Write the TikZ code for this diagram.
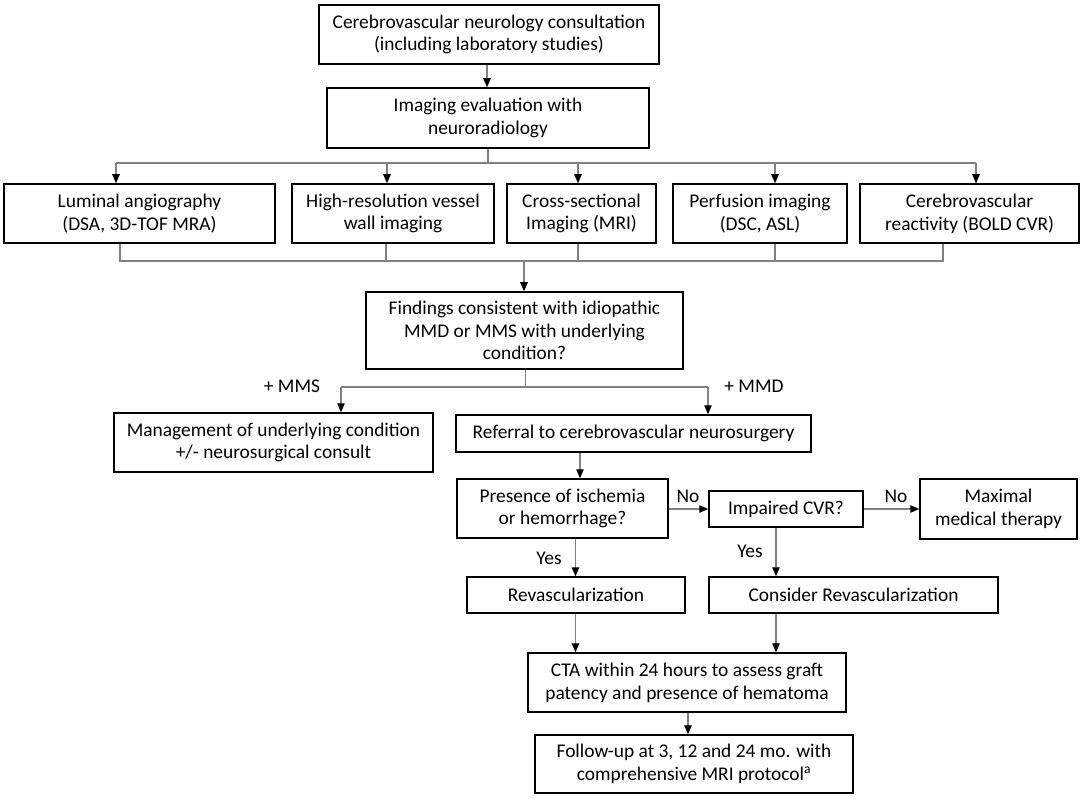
\documentclass[tikz,border=0pt]{standalone}
\usepackage{fontspec}
\setmainfont{Carlito}
\usetikzlibrary{arrows.meta,calc}
\begin{document}
\begin{tikzpicture}[x=1pt,y=-1pt,
  every node/.style={font=\fontsize{19.4}{22.8}\selectfont},
  box/.style={draw=black,line width=1.5pt,inner sep=0pt,align=center},
  lbl/.style={inner sep=0pt},
  line/.style={draw=black!50,line width=1.2pt},
  arr/.style={line,-{Triangle[length=9pt,width=7.5pt,color=black]}}]
\useasboundingbox (0,0) rectangle (1084,799);
% boxes
\node[box,minimum width=340pt,minimum height=59pt] (b1) at (489,34.5) {Cerebrovascular neurology consultation\\(including laboratory studies)};
\node[box,minimum width=322pt,minimum height=60pt] (b2) at (488,118) {Imaging evaluation with\\neuroradiology};
\node[box,minimum width=271pt,minimum height=59pt] (r1) at (139.5,213.5) {Luminal angiography\\(DSA, 3D-TOF MRA)};
\node[box,minimum width=202pt,minimum height=59pt] (r2) at (393,213.5) {High-resolution vessel\\wall imaging};
\node[box,minimum width=149pt,minimum height=59pt] (r3) at (581.5,213.5) {Cross-sectional\\Imaging (MRI)};
\node[box,minimum width=174pt,minimum height=59pt] (r4) at (760,213.5) {Perfusion imaging\\(DSC, ASL)};
\node[box,minimum width=219pt,minimum height=59pt] (r5) at (969.5,213.5) {Cerebrovascular\\reactivity (BOLD CVR)};
\node[box,minimum width=317pt,minimum height=77pt] (fd) at (524.5,330.5) {Findings consistent with idiopathic\\MMD or MMS with underlying\\condition?};
\node[box,minimum width=319pt,minimum height=59pt] (mg) at (273.5,442.5) {Management of underlying condition\\+/- neurosurgical consult};
\node[box,minimum width=355pt,minimum height=37pt] (rf) at (633.5,433.5) {Referral to cerebrovascular neurosurgery};
\node[box,minimum width=211pt,minimum height=59pt] (pr) at (562.5,508.5) {Presence of ischemia\\or hemorrhage?};
\node[box,minimum width=154pt,minimum height=36pt] (ic) at (786,509) {Impaired CVR?};
\node[box,minimum width=157pt,minimum height=60pt] (mx) at (998.5,509) {Maximal\\medical therapy};
\node[box,minimum width=218pt,minimum height=36pt] (rv) at (576,595) {Revascularization};
\node[box,minimum width=289pt,minimum height=36pt] (cr) at (853.5,595) {Consider Revascularization};
\node[box,minimum width=318pt,minimum height=59pt] (ct) at (687,682.5) {CTA within 24 hours to assess graft\\patency and presence of hematoma};
\node[box,minimum width=318pt,minimum height=58pt] (fu) at (694,764) {Follow-up at 3, 12 and 24 mo. with\\comprehensive MRI protocol\textsuperscript{a}};
% top bus
\coordinate (t1) at (116,163);
\coordinate (t2) at (387,163);
\coordinate (t3) at (578,163);
\coordinate (t4) at (775,163);
\coordinate (t5) at (976,163);
\draw[arr] (b1.south -| 487,0) -- (b2.north -| 487,0);
\draw[line] (b2.south) -- (b2.south |- t1);
\draw[line] (t1) -- (t5);
\draw[arr] (t1) -- (t1 |- r1.north);
\draw[arr] (t2) -- (t2 |- r2.north);
\draw[arr] (t3) -- (t3 |- r3.north);
\draw[arr] (t4) -- (t4 |- r4.north);
\draw[arr] (t5) -- (t5 |- r5.north);
% bottom bus
\coordinate (u1) at (120,261);
\coordinate (u2) at (386,261);
\coordinate (u3) at (578,261);
\coordinate (u4) at (775,261);
\coordinate (u5) at (943,261);
\coordinate (uf) at (524,261);
\draw[line] (u1 |- r1.south) -- (u1) -- (u5) -- (u5 |- r5.south);
\draw[line] (u2 |- r2.south) -- (u2);
\draw[line] (u3 |- r3.south) -- (u3);
\draw[line] (u4 |- r4.south) -- (u4);
\draw[arr] (uf) -- (uf |- fd.north);
% findings split
\coordinate (s0) at (525.5,387);
\coordinate (s1) at (341,387);
\coordinate (s2) at (708,387);
\draw[line] (fd.south -| s0) -- (s0);
\draw[line] (s1) -- (s2);
\draw[arr] (s1) -- (s1 |- mg.north);
\draw[arr] (s2) -- (s2 |- rf.north);
\node[lbl] (lmms) at (292,386) {+ MMS};
\node[lbl] (lmmd) at (754,386) {+ MMD};
% lower flow
\coordinate (p0) at (580,0);
\draw[arr] (rf.south -| p0) -- (pr.north -| p0);
\draw[arr] (pr.east |- ic.west) -- (ic.west);
\draw[arr] (ic.east) -- (mx.west |- ic.east);
\node[lbl] (ln1) at (688,496) {No};
\node[lbl] (ln2) at (896,496) {No};
\coordinate (p1) at (575.5,0);
\coordinate (p2) at (776,0);
\draw[arr] (pr.south -| p1) -- (rv.north -| p1);
\draw[arr] (ic.south -| p2) -- (cr.north -| p2);
\node[lbl] (ly1) at (549,558) {Yes};
\node[lbl] (ly2) at (750,551) {Yes};
\draw[arr] (rv.south -| p1) -- (ct.north -| p1);
\draw[arr] (cr.south -| p2) -- (ct.north -| p2);
\coordinate (p3) at (688,0);
\draw[arr] (ct.south -| p3) -- (fu.north -| p3);
\end{tikzpicture}
\end{document}
